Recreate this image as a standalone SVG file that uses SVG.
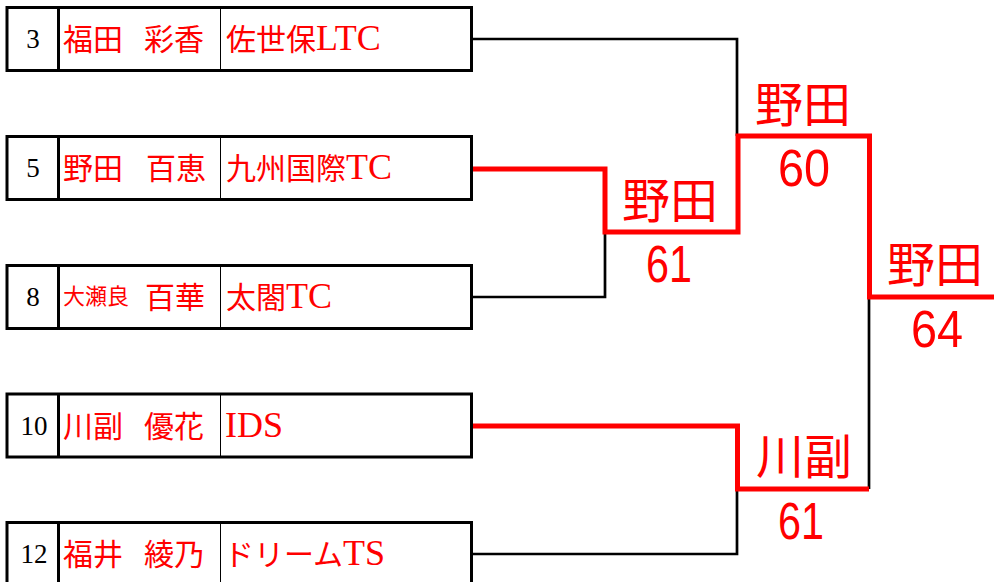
<svg xmlns="http://www.w3.org/2000/svg" width="994" height="582" viewBox="0 0 994 582">
<style>
.box{fill:#fff;stroke:#000;stroke-width:3}
.div1{stroke:#000;stroke-width:3}
.div2{stroke:#000;stroke-width:1}
.seed{font-family:"Liberation Serif","Noto Sans CJK JP",serif;font-size:27px;fill:#000;text-anchor:middle}
.nm{font-family:"Liberation Serif","Noto Sans CJK JP",serif;font-size:30px;fill:#ff0000}
.sm{font-size:22px}
.lat{font-size:36px}
.win{fill:none;stroke:#ff0000;stroke-width:5}
.los{fill:none;stroke:#000;stroke-width:2.7}
.res{font-family:"Noto Sans CJK JP","Noto Sans",sans-serif;font-size:48px;fill:#ff0000;text-anchor:middle}
.sc{font-family:"Liberation Sans","Noto Sans",sans-serif;font-size:51px;fill:#ff0000;text-anchor:middle}
</style>
<rect width="994" height="582" fill="#fff"/>
<g id="connectors">
<path class="los" d="M472,39 H737 V136"/>
<path class="los" d="M472,297 H605 V232"/>
<path class="los" d="M472,554 H737 V489"/>
<path class="los" d="M869,489 V297"/>
<path class="win" d="M472,169 H605 V232 H738 V136 H869.5 V297 H994"/>
<path class="win" d="M472,426 H737.5 V489 H869"/>
</g>
<g id="p1">
<rect class="box" x="7" y="7.5" width="464.5" height="63"/>
<line class="div1" x1="58.5" y1="7.5" x2="58.5" y2="70.5"/>
<line class="div2" x1="220.5" y1="7.5" x2="220.5" y2="70.5"/>
<text class="seed" x="33" y="48">3</text>
<text class="nm" x="63" y="50">福田</text>
<text class="nm" x="144" y="50">彩香</text>
<text class="nm" x="226" y="50">佐世保<tspan class="lat">LTC</tspan></text>
</g>
<g id="p2">
<rect class="box" x="7" y="136.5" width="464.5" height="63"/>
<line class="div1" x1="58.5" y1="136.5" x2="58.5" y2="199.5"/>
<line class="div2" x1="220.5" y1="136.5" x2="220.5" y2="199.5"/>
<text class="seed" x="33" y="177">5</text>
<text class="nm" x="63" y="179">野田</text>
<text class="nm" x="146" y="179">百恵</text>
<text class="nm" x="226" y="179">九州国際<tspan class="lat">TC</tspan></text>
</g>
<g id="p3">
<rect class="box" x="7" y="265.5" width="464.5" height="63"/>
<line class="div1" x1="58.5" y1="265.5" x2="58.5" y2="328.5"/>
<line class="div2" x1="220.5" y1="265.5" x2="220.5" y2="328.5"/>
<text class="seed" x="33" y="306">8</text>
<text class="nm sm" x="63" y="304">大瀬良</text>
<text class="nm" x="145" y="308">百華</text>
<text class="nm" x="226" y="308">太閤<tspan class="lat">TC</tspan></text>
</g>
<g id="p4">
<rect class="box" x="7" y="394" width="464.5" height="63"/>
<line class="div1" x1="58.5" y1="394" x2="58.5" y2="457"/>
<line class="div2" x1="220.5" y1="394" x2="220.5" y2="457"/>
<text class="seed" x="34" y="435">10</text>
<text class="nm" x="63" y="437">川副</text>
<text class="nm" x="144" y="437">優花</text>
<text class="nm" x="225" y="437"><tspan class="lat">IDS</tspan></text>
</g>
<g id="p5">
<rect class="box" x="7" y="522.5" width="464.5" height="63"/>
<line class="div1" x1="58.5" y1="522.5" x2="58.5" y2="585.5"/>
<line class="div2" x1="220.5" y1="522.5" x2="220.5" y2="585.5"/>
<text class="seed" x="34" y="563">12</text>
<text class="nm" x="63" y="565">福井</text>
<text class="nm" x="144" y="565">綾乃</text>
<text class="nm" x="224" y="565">ドリーム<tspan class="lat">TS</tspan></text>
</g>
<g id="r1a">
<text class="res" x="670" y="218">野田</text>
<text class="sc" x="669" y="282" textLength="46" lengthAdjust="spacingAndGlyphs">61</text>
</g>
<g id="r1b">
<text class="res" x="804" y="474">川副</text>
<text class="sc" x="801" y="539" textLength="46" lengthAdjust="spacingAndGlyphs">61</text>
</g>
<g id="r2">
<text class="res" x="803" y="122">野田</text>
<text class="sc" x="804" y="186" textLength="52" lengthAdjust="spacingAndGlyphs">60</text>
</g>
<g id="r3">
<text class="res" x="935" y="282">野田</text>
<text class="sc" x="937" y="347" textLength="52" lengthAdjust="spacingAndGlyphs">64</text>
</g>
</svg>
